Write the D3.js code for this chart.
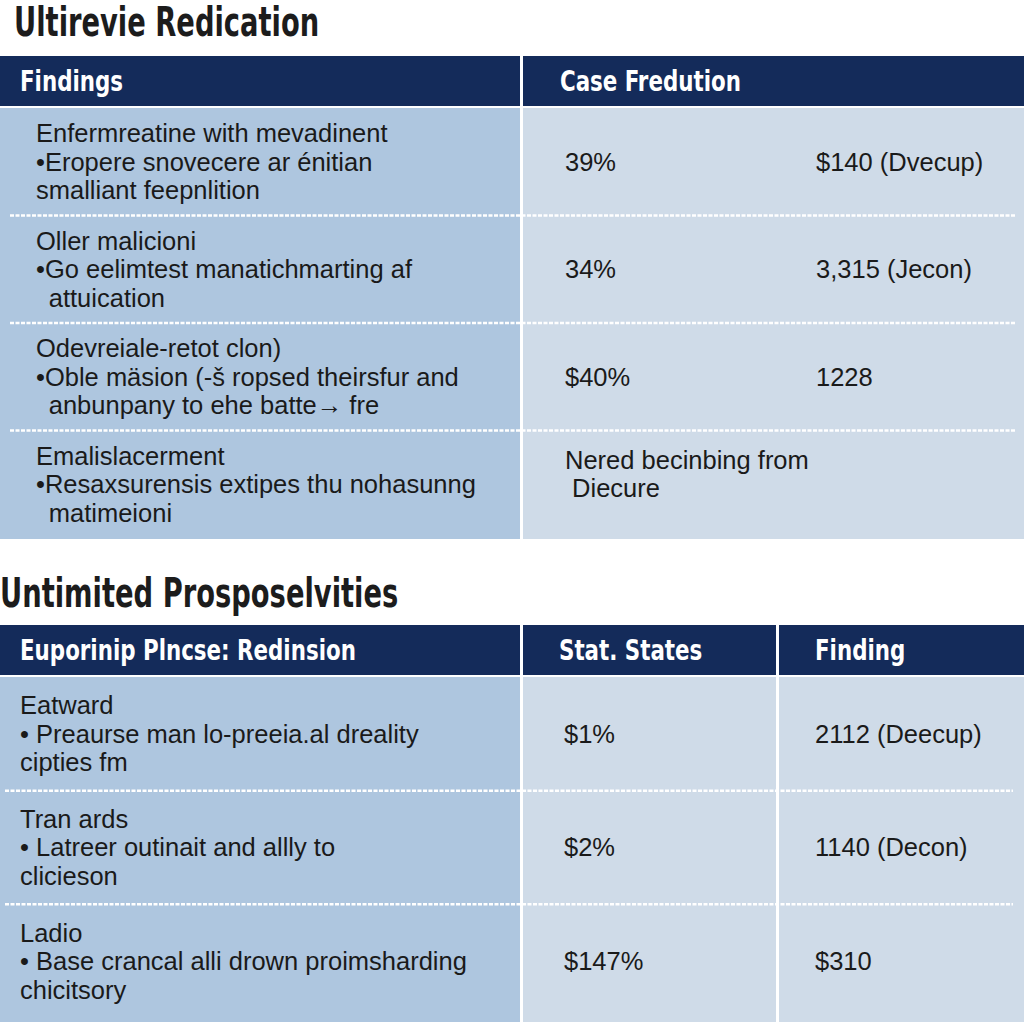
<!DOCTYPE html>
<html>
<head>
<meta charset="utf-8">
<script src="https://cdn.jsdelivr.net/npm/d3@7"></script>
<style>
  html, body { margin: 0; padding: 0; background: #ffffff; }
  svg { display: block; }
</style>
</head>
<body>
<svg id="chart" width="1024" height="1024"></svg>
<script>
// ---------- DATA ----------
const title1 = "Ultirevie Redication";
const table1Headers = ["Findings", "Case Fredution"];
const table1Heads = ["Enfermreatine with mevadinent", "Oller malicioni", "Odevreiale-retot clon)", "Emalislacerment"];
const table1Bullets = ["Eropere snovecere ar énitian", "Go eelimtest manatichmarting af", "Oble mäsion (-\u0161 ropsed theirsfur and", "Resaxsurensis extipes thu nohasunng"];
const table1Tails = ["smalliant feepnlition", "\u2002attuication", "\u2002anbunpany to ehe batte\u2192 fre", "\u2002matimeioni"];
const table1Rates = ["39%", "34%", "$40%", ["Nered becinbing from", " Diecure"]];
const table1Amounts = ["$140 (Dvecup)", "3,315 (Jecon)", "1228", ""];

const title2 = "Untimited Prosposelvities";
const table2Headers = ["Euporinip Plncse: Redinsion", "Stat. States", "Finding"];
const table2Heads = ["Eatward", "Tran ards", "Ladio"];
const table2Bullets = ["Preaurse man lo-preeia.al dreality", "Latreer outinait and allly to", "Base crancal alli drown proimsharding"];
const table2Tails = ["cipties fm", "clicieson", "chicitsory"];
const table2Rates = ["$1%", "$2%", "$147%"];
const table2Amounts = ["2112 (Deecup)", "1140 (Decon)", "$310"];

// ---------- STYLE ----------
const NAVY = "#142b5a";
const LEFT_BG = "#aec6df";
const RIGHT_BG = "#cfdbe8";
const INK = "#1a1a1a";
const HEAD_FONT = "'DejaVu Sans Condensed', 'DejaVu Sans', sans-serif";
const BODY_FONT = "'Liberation Sans', Arial, sans-serif";
const BODY_SIZE = 25.5;
const LINE_H = 28.5;
const TITLE_SQUEEZE = 0.76;
const HEAD_SQUEEZE = 0.82;

const svg = d3.select("#chart");

function drawTable(cfg) {
  const g = svg.append("g");
  // title
  g.append("text")
    .attr("transform", `translate(${cfg.titleX},${cfg.titleY}) scale(${TITLE_SQUEEZE},1)`)
    .attr("font-family", HEAD_FONT).attr("font-weight", "bold")
    .attr("font-size", 40).attr("fill", "#1c1c1c")
    .text(cfg.title);

  // column scale
  const x = d3.scaleOrdinal().domain(d3.range(cfg.colEdges.length)).range(cfg.colEdges);
  const colW = i => (i + 1 < cfg.colEdges.length ? cfg.colEdges[i + 1] : 1024 + 3) - cfg.colEdges[i] - 3;

  // header cells
  g.selectAll(".hcell").data(cfg.headers).join("rect")
    .attr("x", (d, i) => x(i)).attr("y", cfg.headTop)
    .attr("width", (d, i) => colW(i)).attr("height", cfg.headH)
    .attr("fill", NAVY);
  g.selectAll(".htext").data(cfg.headers).join("text")
    .attr("transform", (d, i) => `translate(${x(i) + cfg.headPad[i]},${cfg.headTop + cfg.headH / 2 + 10}) scale(${HEAD_SQUEEZE},1)`)
    .attr("font-family", HEAD_FONT).attr("font-weight", "bold")
    .attr("font-size", 29).attr("fill", "#ffffff")
    .text(d => d);

  // body
  const y = d3.scaleBand().domain(d3.range(cfg.heads.length)).range([cfg.bodyTop, cfg.bodyBottom]);
  const ncols = cfg.colEdges.length;
  g.selectAll(".bcell").data(d3.range(ncols)).join("rect")
    .attr("x", i => x(i)).attr("y", cfg.bodyTop)
    .attr("width", i => colW(i)).attr("height", cfg.bodyFill - cfg.bodyTop)
    .attr("fill", i => i === 0 ? LEFT_BG : RIGHT_BG);

  // dashed separators
  g.selectAll(".sep").data(d3.range(1, cfg.heads.length)).join("line")
    .attr("x1", cfg.dashX0).attr("x2", cfg.dashX1)
    .attr("y1", i => y(i)).attr("y2", i => y(i))
    .attr("stroke", "#ffffff").attr("stroke-width", 2.5)
    .attr("stroke-dasharray", "4,1.5");

  // left column text
  cfg.heads.forEach((h, i) => {
    const cy = y(i) + y.bandwidth() / 2 + cfg.textShift;
    const lines = [
      h,
      cfg.bulletGap ? "\u2022 " + cfg.bullets[i] : "\u2022" + cfg.bullets[i],
      cfg.tails[i]
    ];
    g.selectAll(null).data(lines).join("text")
      .attr("x", cfg.textX).attr("y", (d, k) => cy + (k - 1) * LINE_H)
      .attr("dy", "0.35em")
      .attr("font-family", BODY_FONT).attr("font-size", BODY_SIZE)
      .attr("fill", INK).style("white-space", "pre")
      .text(d => d);
  });

  // value columns
  cfg.valueCols.forEach((vals, c) => {
    vals.forEach((v, i) => {
      const cy = y(i) + y.bandwidth() / 2;
      const arr = Array.isArray(v) ? v : [v];
      const off = Array.isArray(v) ? -10 : 0;
      g.selectAll(null).data(arr).join("text")
        .attr("x", cfg.valueX[c])
        .attr("y", (d, k) => cy + off + (k - (arr.length - 1) / 2) * LINE_H)
        .attr("dy", "0.35em")
        .attr("font-family", BODY_FONT).attr("font-size", BODY_SIZE)
        .attr("fill", INK).style("white-space", "pre")
        .text(d => d);
    });
  });
}

// table 1
drawTable({
  title: title1, titleX: 14, titleY: 36,
  headers: table1Headers, colEdges: [0, 523], headPad: [20, 37],
  headTop: 56, headH: 50,
  heads: table1Heads, bullets: table1Bullets, tails: table1Tails,
  bodyTop: 108, bodyBottom: 538, bodyFill: 539,
  dashX0: 10, dashX1: 1015,
  textX: 36, bulletGap: false, textShift: 0,
  valueCols: [table1Rates, table1Amounts], valueX: [565, 816]
});

// table 2
drawTable({
  title: title2, titleX: 0, titleY: 607,
  headers: table2Headers, colEdges: [0, 523, 779], headPad: [20, 36, 36],
  headTop: 625, headH: 50,
  heads: table2Heads, bullets: table2Bullets, tails: table2Tails,
  bodyTop: 677, bodyBottom: 1018, bodyFill: 1022,
  dashX0: 5, dashX1: 1013,
  textX: 20, bulletGap: true, textShift: 0,
  valueCols: [table2Rates, table2Amounts], valueX: [564, 815]
});
</script>
</body>
</html>
